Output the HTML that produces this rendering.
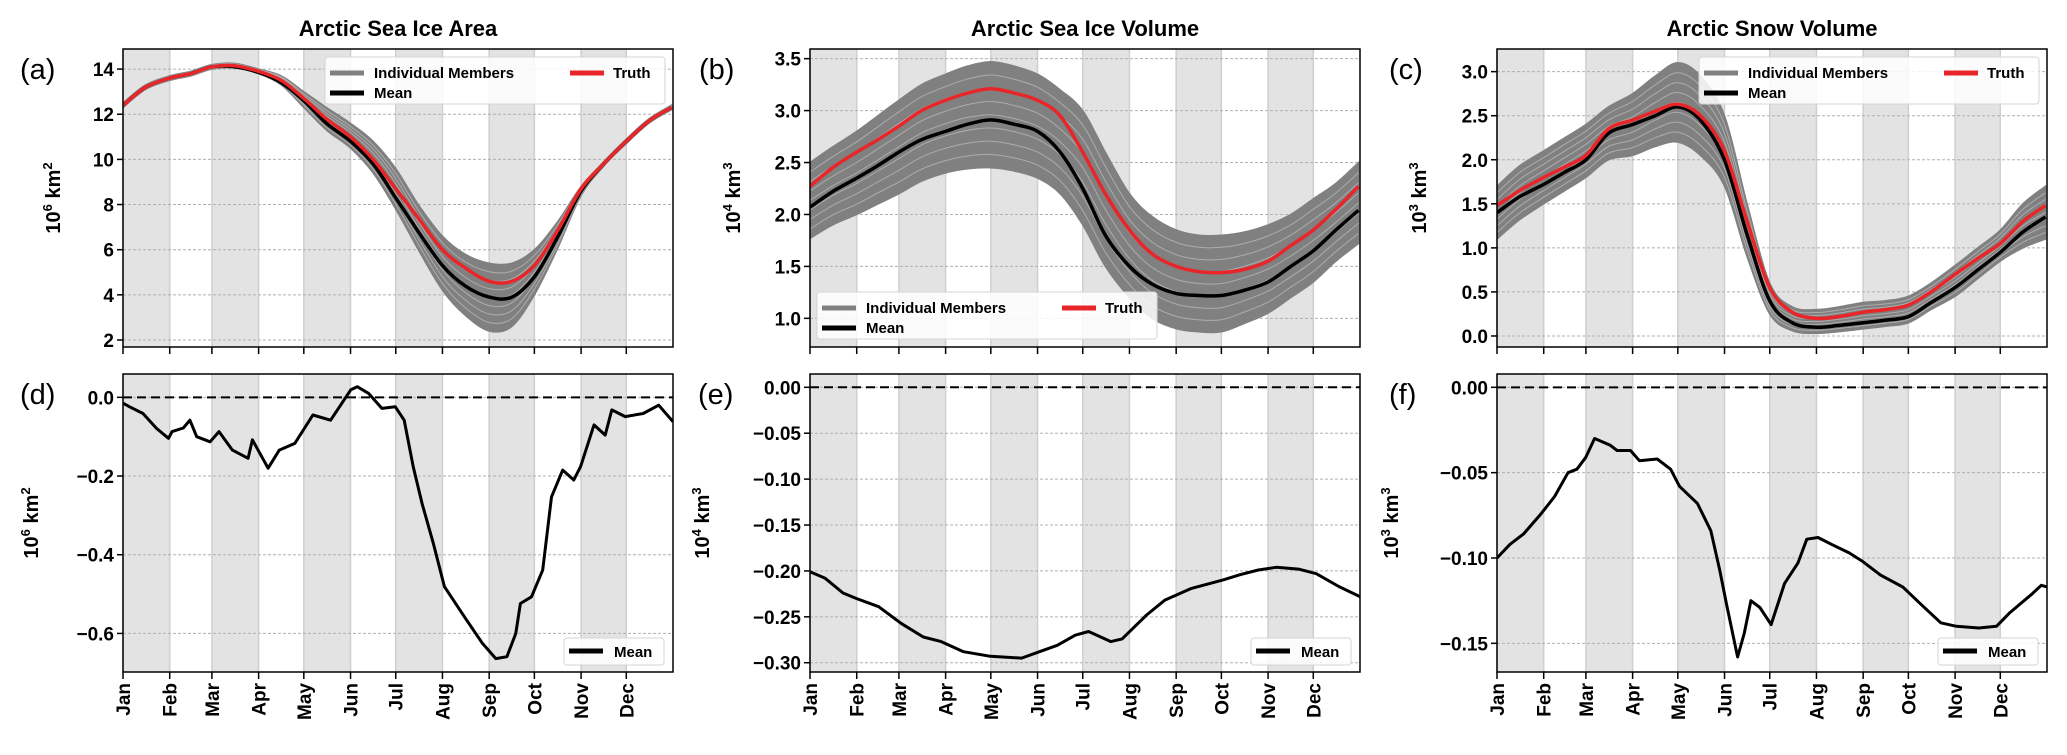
<!DOCTYPE html>
<html><head><meta charset="utf-8">
<style>
html,body{margin:0;padding:0;background:#fff;}
svg{display:block;font-family:"Liberation Sans",Arial,sans-serif;}
</style></head>
<body>
<svg id="fig" width="2067" height="755" viewBox="0 0 2067 755" xmlns="http://www.w3.org/2000/svg"></svg>
<script>
// ---- data ----
const monthNames = ["Jan","Feb","Mar","Apr","May","Jun","Jul","Aug","Sep","Oct","Nov","Dec"];
const monthStarts = [0,31,59,90,120,151,181,212,243,273,304,334];
const topDays = [0,15,31,45,59,74,90,105,120,135,151,166,181,196,212,227,243,258,273,288,304,319,334,349,364];

const areaTruth = [12.4,13.2,13.6,13.8,14.1,14.15,13.9,13.5,12.7,11.8,11.0,10.0,8.7,7.4,6.0,5.2,4.6,4.6,5.3,6.8,8.7,9.8,10.8,11.7,12.3];
const areaMean  = [12.4,13.2,13.6,13.8,14.1,14.1,13.85,13.4,12.6,11.6,10.8,9.8,8.3,6.8,5.3,4.4,3.9,3.9,4.8,6.5,8.6,9.8,10.8,11.7,12.3];
const areaUpper = [12.5,13.3,13.7,13.9,14.2,14.25,14.0,13.7,13.0,12.3,11.6,10.8,9.6,8.0,6.6,5.8,5.4,5.4,6.0,7.2,8.8,9.9,10.9,11.8,12.4];
const areaLower = [12.3,13.1,13.5,13.7,14.0,14.05,13.8,13.3,12.3,11.3,10.5,9.4,7.8,6.0,4.2,3.1,2.4,2.6,4.0,6.0,8.4,9.7,10.7,11.6,12.2];

const volTruth = [2.27,2.45,2.6,2.72,2.85,3.0,3.1,3.17,3.21,3.17,3.1,2.95,2.6,2.2,1.85,1.62,1.5,1.45,1.44,1.47,1.55,1.7,1.85,2.05,2.27];
const volMean  = [2.07,2.22,2.35,2.47,2.6,2.72,2.8,2.87,2.91,2.87,2.8,2.6,2.25,1.8,1.5,1.33,1.24,1.22,1.22,1.27,1.35,1.5,1.65,1.85,2.04];
const volUpper = [2.5,2.65,2.8,2.95,3.1,3.25,3.35,3.43,3.47,3.43,3.35,3.2,3.0,2.6,2.2,1.98,1.85,1.8,1.8,1.83,1.9,2.0,2.15,2.3,2.5];
const volLower = [1.77,1.9,2.0,2.1,2.2,2.32,2.4,2.44,2.45,2.42,2.35,2.2,1.9,1.5,1.2,1.0,0.9,0.87,0.87,0.95,1.05,1.2,1.35,1.55,1.72];

const snowTruth = [1.48,1.65,1.8,1.92,2.05,2.35,2.45,2.55,2.63,2.5,2.1,1.3,0.55,0.27,0.2,0.22,0.27,0.3,0.35,0.5,0.7,0.88,1.05,1.3,1.48];
const snowMean  = [1.4,1.58,1.72,1.86,2.0,2.3,2.4,2.5,2.6,2.45,2.0,1.15,0.4,0.15,0.1,0.12,0.15,0.18,0.22,0.38,0.55,0.75,0.95,1.18,1.35];
const snowUpper = [1.7,1.93,2.1,2.25,2.4,2.6,2.75,2.95,3.1,2.95,2.5,1.5,0.6,0.33,0.3,0.33,0.38,0.4,0.45,0.6,0.8,1.0,1.2,1.5,1.7];
const snowLower = [1.1,1.32,1.5,1.65,1.8,2.0,2.05,2.15,2.2,2.05,1.7,0.9,0.25,0.06,0.03,0.05,0.08,0.11,0.15,0.3,0.45,0.65,0.85,1.0,1.1];

const areaDiffDays = [0,4.4,13.3,22.2,30.2,32.6,40,44.4,48.9,57.8,63.7,72.6,83,85.9,96.3,103.7,114,126,137.8,143.7,151.1,155.5,163,171.8,180.7,186.6,192.6,198.5,205.9,213.3,226.6,238.5,247.4,254.8,260.7,263.7,271.1,278.5,284.4,291.8,299.2,303.7,312.6,320,324.4,333.3,345.2,355.5,365];
const areaDiff = [-0.015,-0.024,-0.041,-0.079,-0.104,-0.087,-0.078,-0.058,-0.100,-0.113,-0.087,-0.134,-0.155,-0.108,-0.180,-0.134,-0.117,-0.045,-0.058,-0.024,0.019,0.027,0.010,-0.028,-0.024,-0.058,-0.176,-0.270,-0.371,-0.481,-0.558,-0.625,-0.664,-0.659,-0.600,-0.524,-0.507,-0.439,-0.253,-0.185,-0.210,-0.176,-0.070,-0.096,-0.032,-0.049,-0.041,-0.020,-0.062];

const volDiffDays = [0,10.1,21.9,30.8,45.6,60.4,75.2,87.1,101.9,119.7,140.4,152.3,164.1,176,184.9,199.7,207.1,223.4,235.3,253.1,273.8,285.7,297.5,309.4,324.2,336,350.9,365];
const volDiff = [-0.201,-0.208,-0.224,-0.230,-0.239,-0.257,-0.272,-0.277,-0.288,-0.293,-0.295,-0.288,-0.281,-0.270,-0.266,-0.277,-0.274,-0.248,-0.232,-0.219,-0.210,-0.204,-0.199,-0.196,-0.198,-0.203,-0.217,-0.228];

const snowDiffDays = [0,8.6,17.5,29.3,38.2,47.1,53,58.9,64.8,75.2,79.7,88.6,94.5,106.3,115.2,121.1,133,141.9,147.8,152.3,159.7,164.1,168.5,174.5,181.9,190.8,199.7,205.6,213,221.9,233.7,242.6,254.5,269.3,281.2,294.5,304.9,319.7,331.5,340.4,355.2,361.2,365];
const snowDiff = [-0.100,-0.092,-0.086,-0.074,-0.064,-0.050,-0.048,-0.041,-0.030,-0.034,-0.037,-0.037,-0.043,-0.042,-0.048,-0.058,-0.068,-0.084,-0.107,-0.127,-0.158,-0.144,-0.125,-0.129,-0.139,-0.115,-0.103,-0.089,-0.088,-0.092,-0.097,-0.102,-0.110,-0.117,-0.127,-0.138,-0.140,-0.141,-0.140,-0.132,-0.121,-0.116,-0.117];

const areaTicks = [2,4,6,8,10,12,14];
const volTicks = [1.0,1.5,2.0,2.5,3.0,3.5];
const snowTicks = [0.0,0.5,1.0,1.5,2.0,2.5,3.0];
const areaDiffTicks = [0.0,-0.2,-0.4,-0.6];
const volDiffTicks = [0.00,-0.05,-0.10,-0.15,-0.20,-0.25,-0.30];
const snowDiffTicks = [0.00,-0.05,-0.10,-0.15];

// ---- drawing ----
const NS = "http://www.w3.org/2000/svg";
const svg = document.getElementById("fig");
function mk(tag, attrs, parent){
  const e = document.createElementNS(NS, tag);
  for (const k in attrs) e.setAttribute(k, attrs[k]);
  (parent||svg).appendChild(e);
  return e;
}
function smoothPath(pts){
  let d = "M"+pts[0][0].toFixed(1)+","+pts[0][1].toFixed(1);
  for (let i=0;i<pts.length-1;i++){
    const p0=pts[Math.max(0,i-1)], p1=pts[i], p2=pts[i+1], p3=pts[Math.min(pts.length-1,i+2)];
    const c1=[p1[0]+(p2[0]-p0[0])/6, p1[1]+(p2[1]-p0[1])/6];
    const c2=[p2[0]-(p3[0]-p1[0])/6, p2[1]-(p3[1]-p1[1])/6];
    d+=" C"+c1[0].toFixed(1)+","+c1[1].toFixed(1)+" "+c2[0].toFixed(1)+","+c2[1].toFixed(1)+" "+p2[0].toFixed(1)+","+p2[1].toFixed(1);
  }
  return d;
}
function fmt(v, dec){ const s=Math.abs(v).toFixed(dec); return (v<-1e-9?"\u2212":"")+s; }

function panel(cfg){
  const g = mk("g", {});
  
  
  const L=cfg.x0, R=cfg.x0+550, T=cfg.y0, B=cfg.y0+298;
  const xs = d => L + d/365*550;
  const ys = v => B - (v-cfg.ymin)/(cfg.ymax-cfg.ymin)*298;
  // shading
  for (let m=0;m<12;m+=2){
    const x1=xs(monthStarts[m]), x2=xs(monthStarts[m+1]);
    const r = mk("rect",{x:x1,y:T,width:x2-x1,height:298,fill:"#e3e3e3"},g);
    
    
    mk("line",{x1:x1,y1:T,x2:x1,y2:B,stroke:"#cfcfcf","stroke-width":1.5},g);
    mk("line",{x1:x2,y1:T,x2:x2,y2:B,stroke:"#cfcfcf","stroke-width":1.5},g);
  }
  // grid
  cfg.ticks.forEach(t=>{
    const y=ys(t);
    mk("line",{x1:L,y1:y,x2:R,y2:y,stroke:"#b0b0b0","stroke-width":1,"stroke-dasharray":"3,2"},g);
    const tl = mk("line",{x1:L-6,y1:y,x2:L,y2:y,stroke:"#000","stroke-width":1.5},g);
    const tx = mk("text",{x:L-9,y:y+7,"text-anchor":"end","font-size":19,"font-weight":"bold"},g);
    tx.textContent = fmt(t,cfg.dec);
    
    
  });
  // x ticks
  monthStarts.forEach((d,i)=>{
    const x=xs(d);
    mk("line",{x1:x,y1:B,x2:x,y2:B+7,stroke:"#000","stroke-width":1.5},g);
    if (cfg.monthLabels){
      const t = mk("text",{x:x+7,y:B+11,"text-anchor":"end","font-size":19,"font-weight":"bold",transform:"rotate(-90 "+(x+7)+" "+(B+11)+")"},g);
      t.textContent = monthNames[i];
      
      
    }
  });
  const clip = "clip-"+cfg.name;
  const cp = mk("clipPath",{id:clip},g);
  mk("rect",{x:L,y:T,width:550,height:298},cp);
  const pg = mk("g",{"clip-path":"url(#"+clip+")"},g);
  if (cfg.upper){
    // member envelope
    const up = cfg.upper.map((v,i)=>[xs(topDays[i]),ys(v)]);
    const lo = cfg.lower.map((v,i)=>[xs(topDays[i]),ys(v)]).reverse();
    const dUp = smoothPath(up);
    const dLo = smoothPath(lo).replace(/^M/,"L");
    const band = mk("path",{d:dUp+" "+dLo+" Z",fill:"#808080",stroke:"#808080","stroke-width":1.5},pg);
    
    
    for (let k=1;k<8;k++){
      const f=k/8;
      const pts=cfg.upper.map((v,i)=>[xs(topDays[i]),ys(cfg.lower[i]+(v-cfg.lower[i])*f)]);
      mk("path",{d:smoothPath(pts),fill:"none",stroke:"#ffffff","stroke-opacity":0.35,"stroke-width":1},pg);
    }
    const mp = mk("path",{d:smoothPath(cfg.mean.map((v,i)=>[xs(topDays[i]),ys(v)])),fill:"none",stroke:"#000","stroke-width":3.5},pg);
    
    
    const tp = mk("path",{d:smoothPath(cfg.truth.map((v,i)=>[xs(topDays[i]),ys(v)])),fill:"none",stroke:"#e8262a","stroke-width":3.5},pg);
    
    
  } else {
    mk("line",{x1:L,y1:ys(0),x2:R,y2:ys(0),stroke:"#000","stroke-width":2,"stroke-dasharray":"9,5"},pg);
    const pts = cfg.diff.map((v,i)=>xs(cfg.diffDays[i]).toFixed(1)+","+ys(v).toFixed(1)).join(" ");
    const pl = mk("polyline",{points:pts,fill:"none",stroke:"#000","stroke-width":3,"stroke-linejoin":"round"},pg);
    
    
  }
  // frame
  mk("rect",{x:L,y:T,width:550,height:298,fill:"none",stroke:"#000","stroke-width":1.5},g);
  // title
  if (cfg.title){
    const t = mk("text",{x:L+275,y:36,"text-anchor":"middle","font-size":22,"font-weight":"bold"},g);
    t.textContent = cfg.title;
    
    
  }
  // panel letter
  const lt = mk("text",{x:cfg.letterX,y:T+30,"font-size":29},g);
  lt.textContent = cfg.letter;
  
  
  // y label
  const cy = T+149;
  const yl = mk("text",{x:cfg.ylabX,y:cy,"text-anchor":"middle","font-size":20,"font-weight":"bold",transform:"rotate(-90 "+cfg.ylabX+" "+cy+")"},g);
  yl.innerHTML = '10<tspan dy="-8" font-size="13">'+cfg.exp+'</tspan><tspan dy="8"> km</tspan><tspan dy="-8" font-size="13">'+cfg.unitExp+'</tspan>';
  
  
  // legend
  const lg = mk("g",{},g);
  
  
  const lx=cfg.legend[0], ly=cfg.legend[1];
  if (cfg.upper){
    mk("rect",{x:lx,y:ly,width:340,height:47,rx:3,fill:"#fff","fill-opacity":0.85,stroke:"#d6d6d6","stroke-width":1},lg);
    mk("line",{x1:lx+5,y1:ly+16,x2:lx+39,y2:ly+16,stroke:"#808080","stroke-width":5},lg);
    let t = mk("text",{x:lx+49,y:ly+21,"font-size":15,"font-weight":"bold"},lg); t.textContent="Individual Members";
     
    mk("line",{x1:lx+5,y1:ly+36,x2:lx+39,y2:ly+36,stroke:"#000","stroke-width":5},lg);
    t = mk("text",{x:lx+49,y:ly+41,"font-size":15,"font-weight":"bold"},lg); t.textContent="Mean";
     
    mk("line",{x1:lx+245,y1:ly+16,x2:lx+279,y2:ly+16,stroke:"#e8262a","stroke-width":5},lg);
    t = mk("text",{x:lx+288,y:ly+21,"font-size":15,"font-weight":"bold"},lg); t.textContent="Truth";
     
  } else {
    mk("rect",{x:lx,y:ly,width:100,height:27,rx:3,fill:"#fff","fill-opacity":0.85,stroke:"#d6d6d6","stroke-width":1},lg);
    mk("line",{x1:lx+5,y1:ly+13,x2:lx+39,y2:ly+13,stroke:"#000","stroke-width":5},lg);
    const t = mk("text",{x:lx+50,y:ly+19,"font-size":15,"font-weight":"bold"},lg); t.textContent="Mean";
     
  }
}

panel({name:"panel-a-sea-ice-area",x0:123,y0:49,ymin:1.69,ymax:14.89,ticks:areaTicks,dec:0,title:"Arctic Sea Ice Area",letter:"(a)",letterX:20,ylabX:60,exp:"6",unitExp:"2",truth:areaTruth,mean:areaMean,upper:areaUpper,lower:areaLower,legend:[325,57]});
panel({name:"panel-b-sea-ice-volume",x0:810,y0:49,ymin:0.724,ymax:3.593,ticks:volTicks,dec:1,title:"Arctic Sea Ice Volume",letter:"(b)",letterX:699,ylabX:740,exp:"4",unitExp:"3",truth:volTruth,mean:volMean,upper:volUpper,lower:volLower,legend:[817,292]});
panel({name:"panel-c-snow-volume",x0:1497,y0:49,ymin:-0.125,ymax:3.257,ticks:snowTicks,dec:1,title:"Arctic Snow Volume",letter:"(c)",letterX:1389,ylabX:1426,exp:"3",unitExp:"3",truth:snowTruth,mean:snowMean,upper:snowUpper,lower:snowLower,legend:[1699,57]});
panel({name:"panel-d-area-difference",x0:123,y0:374,ymin:-0.698,ymax:0.0593,ticks:areaDiffTicks,dec:1,letter:"(d)",letterX:20,ylabX:38,exp:"6",unitExp:"2",diff:areaDiff,diffDays:areaDiffDays,monthLabels:true,legend:[564,638]});
panel({name:"panel-e-volume-difference",x0:810,y0:374,ymin:-0.3101,ymax:0.0145,ticks:volDiffTicks,dec:2,letter:"(e)",letterX:698,ylabX:709,exp:"4",unitExp:"3",diff:volDiff,diffDays:volDiffDays,monthLabels:true,legend:[1251,638]});
panel({name:"panel-f-snow-difference",x0:1497,y0:374,ymin:-0.1668,ymax:0.0078,ticks:snowDiffTicks,dec:2,letter:"(f)",letterX:1389,ylabX:1398,exp:"3",unitExp:"3",diff:snowDiff,diffDays:snowDiffDays,monthLabels:true,legend:[1938,638]});
</script>
</body></html>
